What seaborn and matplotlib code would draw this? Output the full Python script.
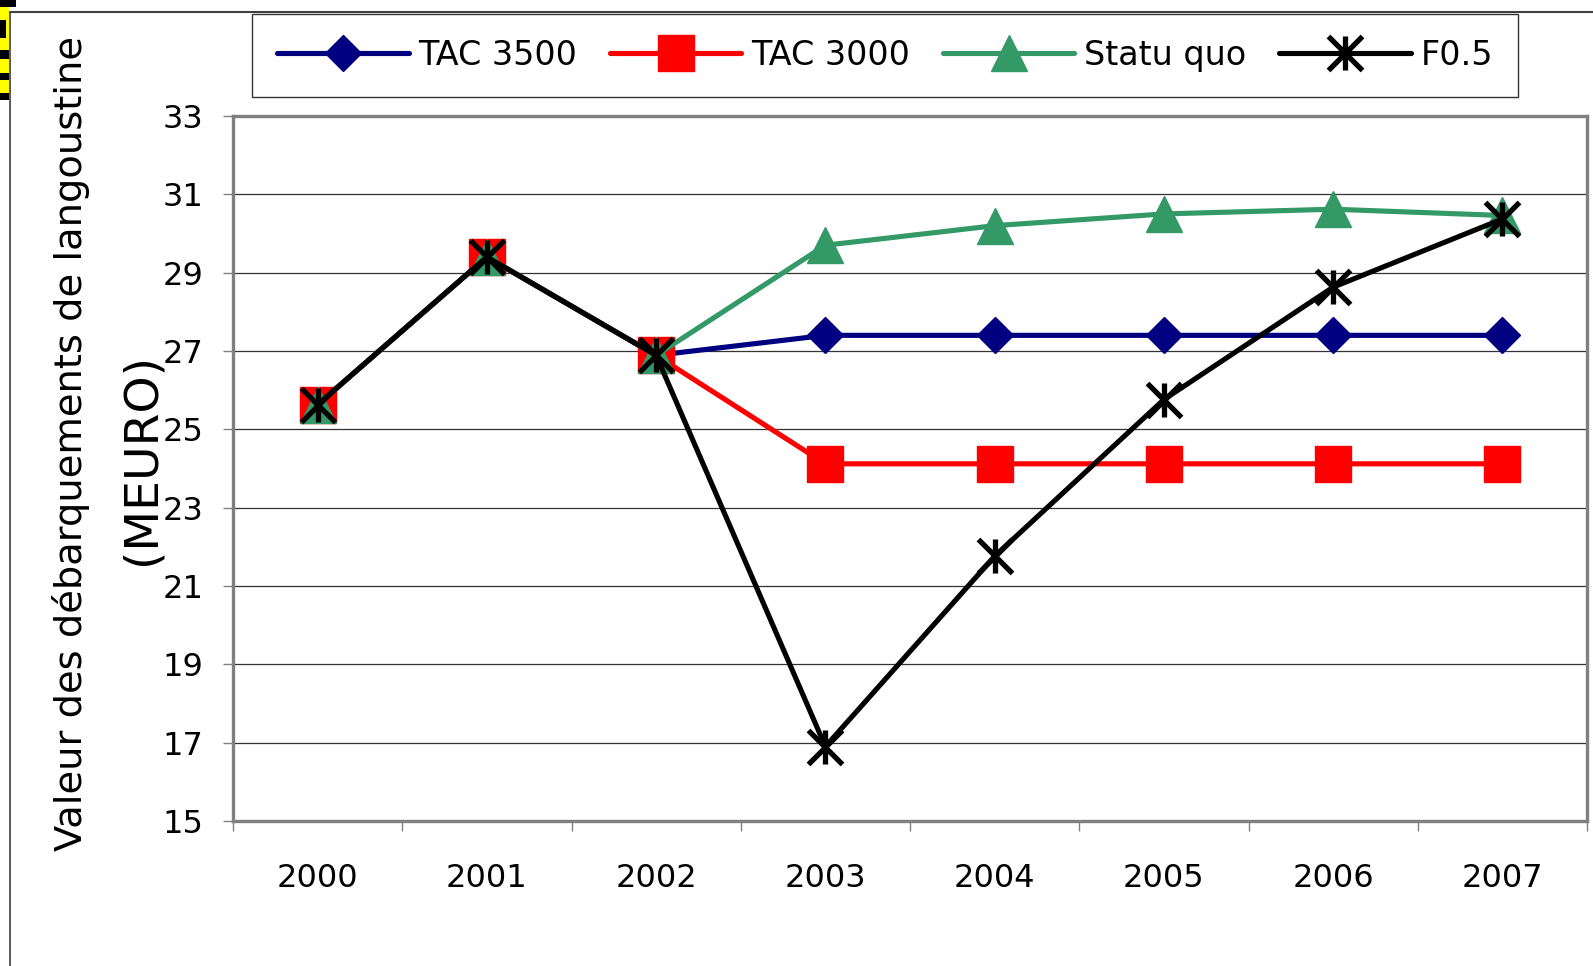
import numpy as np
import matplotlib
matplotlib.use("Agg")
import matplotlib.pyplot as plt
import seaborn as sns
from matplotlib.path import Path
from matplotlib.lines import Line2D
from matplotlib.patches import Rectangle

# ---------------- data ----------------
years = ["2000", "2001", "2002", "2003", "2004", "2005", "2006", "2007"]
tac3500 = [25.63, 29.40, 26.89, 27.40, 27.40, 27.40, 27.40, 27.40]
tac3000 = [25.63, 29.40, 26.89, 24.12, 24.12, 24.12, 24.12, 24.12]
statu_quo = [25.63, 29.40, 26.89, 29.70, 30.20, 30.50, 30.62, 30.46]
f05 = [25.63, 29.40, 26.89, 16.90, 21.76, 25.76, 28.63, 30.37]
series_names = ["TAC 3500", "TAC 3000", "Statu quo", "F0.5"]
y_ticks = list(range(15, 34, 2))
ylabel_line1 = "Valeur des débarquements de langoustine"
ylabel_line2 = "(MEURO)"

# ---------------- style ----------------
sns.set_style("white")
plt.rcParams['font.family'] = ['DejaVu Sans']
plt.rcParams['text.color'] = 'black'
plt.rcParams['xtick.labelcolor'] = 'black'
plt.rcParams['ytick.labelcolor'] = 'black'

W, H = 1593, 966
fig = plt.figure(figsize=(W / 100, H / 100), dpi=100)
fig.patch.set_facecolor("white")


def fx(px):
    return px / W


def fy(py):
    return 1 - py / H


ax = fig.add_axes([fx(233), fy(821), fx(1587) - fx(233), fy(116) - fy(821)])

star = Path([(0, -1), (0, 1), (-1, -1), (1, 1), (-1, 1), (1, -1)],
            [Path.MOVETO, Path.LINETO] * 3)

specs = [
    (tac3500, series_names[0], "#000080", "D", 18.5, 1.0),
    (tac3000, series_names[1], "#FF0000", "s", 26.0, 1.0),
    (statu_quo, series_names[2], "#339966", "^", 26.0, 1.0),
    (f05, series_names[3], "#000000", star, 24.5, 3.8),
]
xpos = np.arange(len(years))
for vals, name, color, marker, ms, mew in specs:
    sns.lineplot(x=xpos, y=vals, ax=ax, color=color, lw=3.7, marker=marker,
                 markersize=ms, markerfacecolor=color, markeredgecolor=color,
                 markeredgewidth=mew, label=name, sort=False, legend=False)

ax.set_xlim(-0.5, 7.5)
ax.set_ylim(15, 33)
ax.set_yticks(y_ticks)
ax.set_xticks(xpos)
ax.set_xticklabels(years)
ax.set_xticks(np.arange(-0.5, 8, 1), minor=True)
ax.set_xlabel("")
ax.set_ylabel("")
ax.tick_params(axis='x', which='major', length=0, pad=30, labelsize=23,
               labelcolor='black')
ax.tick_params(axis='x', which='minor', length=7.5, width=1, color='#808080',
               direction='out', bottom=True)
ax.tick_params(axis='y', which='major', length=7.5, width=1, color='#808080',
               direction='out', pad=14, labelsize=23, left=True, labelcolor='black')
ax.yaxis.grid(True, color='#333333', lw=0.9)
ax.xaxis.grid(False)
ax.set_axisbelow(True)
for s in ax.spines.values():
    s.set_color('#808080')
    s.set_linewidth(2.4)
    s.set_visible(True)

# legend
handles, labels = ax.get_legend_handles_labels()
leg = fig.legend(handles, labels, loc='center', bbox_to_anchor=(fx(885), fy(55.5)),
                 ncol=4, frameon=True, fancybox=False, edgecolor='black',
                 fontsize=24, handlelength=3.95, handletextpad=0.3,
                 columnspacing=0.97, borderpad=0.75, numpoints=1)
leg.get_frame().set_linewidth(1.0)
for t in leg.get_texts():
    t.set_color('black')

# y label (two lines)
fig.text(fx(71), fy(443), ylabel_line1, rotation=90, ha='center', va='center',
         fontsize=27.6, color='black')
fig.text(fx(142), fy(459), ylabel_line2, rotation=90, ha='center', va='center',
         fontsize=34, color='black')

# outer border lines
fig.add_artist(Line2D([fx(10), 1], [fy(11.5), fy(11.5)], transform=fig.transFigure,
                      color='#404040', lw=1.5))
fig.add_artist(Line2D([fx(10), fx(10)], [0, fy(11.5)], transform=fig.transFigure,
                      color='#404040', lw=1.2))

# cropped neighbouring graphic at the top-left corner
def prect(x0, y0, x1, y1, color):
    fig.add_artist(Rectangle((fx(x0), fy(y1)), fx(x1) - fx(x0), fy(y0) - fy(y1),
                             transform=fig.transFigure, facecolor=color,
                             edgecolor='none'))

prect(0, 7, 9, 100, '#FFFF00')
prect(0, 0, 16, 7, '#000000')
prect(0, 20, 6, 38, '#000000')
prect(0, 50, 9, 59, '#000000')
prect(0, 73, 9, 80, '#000000')
prect(0, 93, 9, 100, '#000000')

fig.savefig("out.png", dpi=100, facecolor="white")
